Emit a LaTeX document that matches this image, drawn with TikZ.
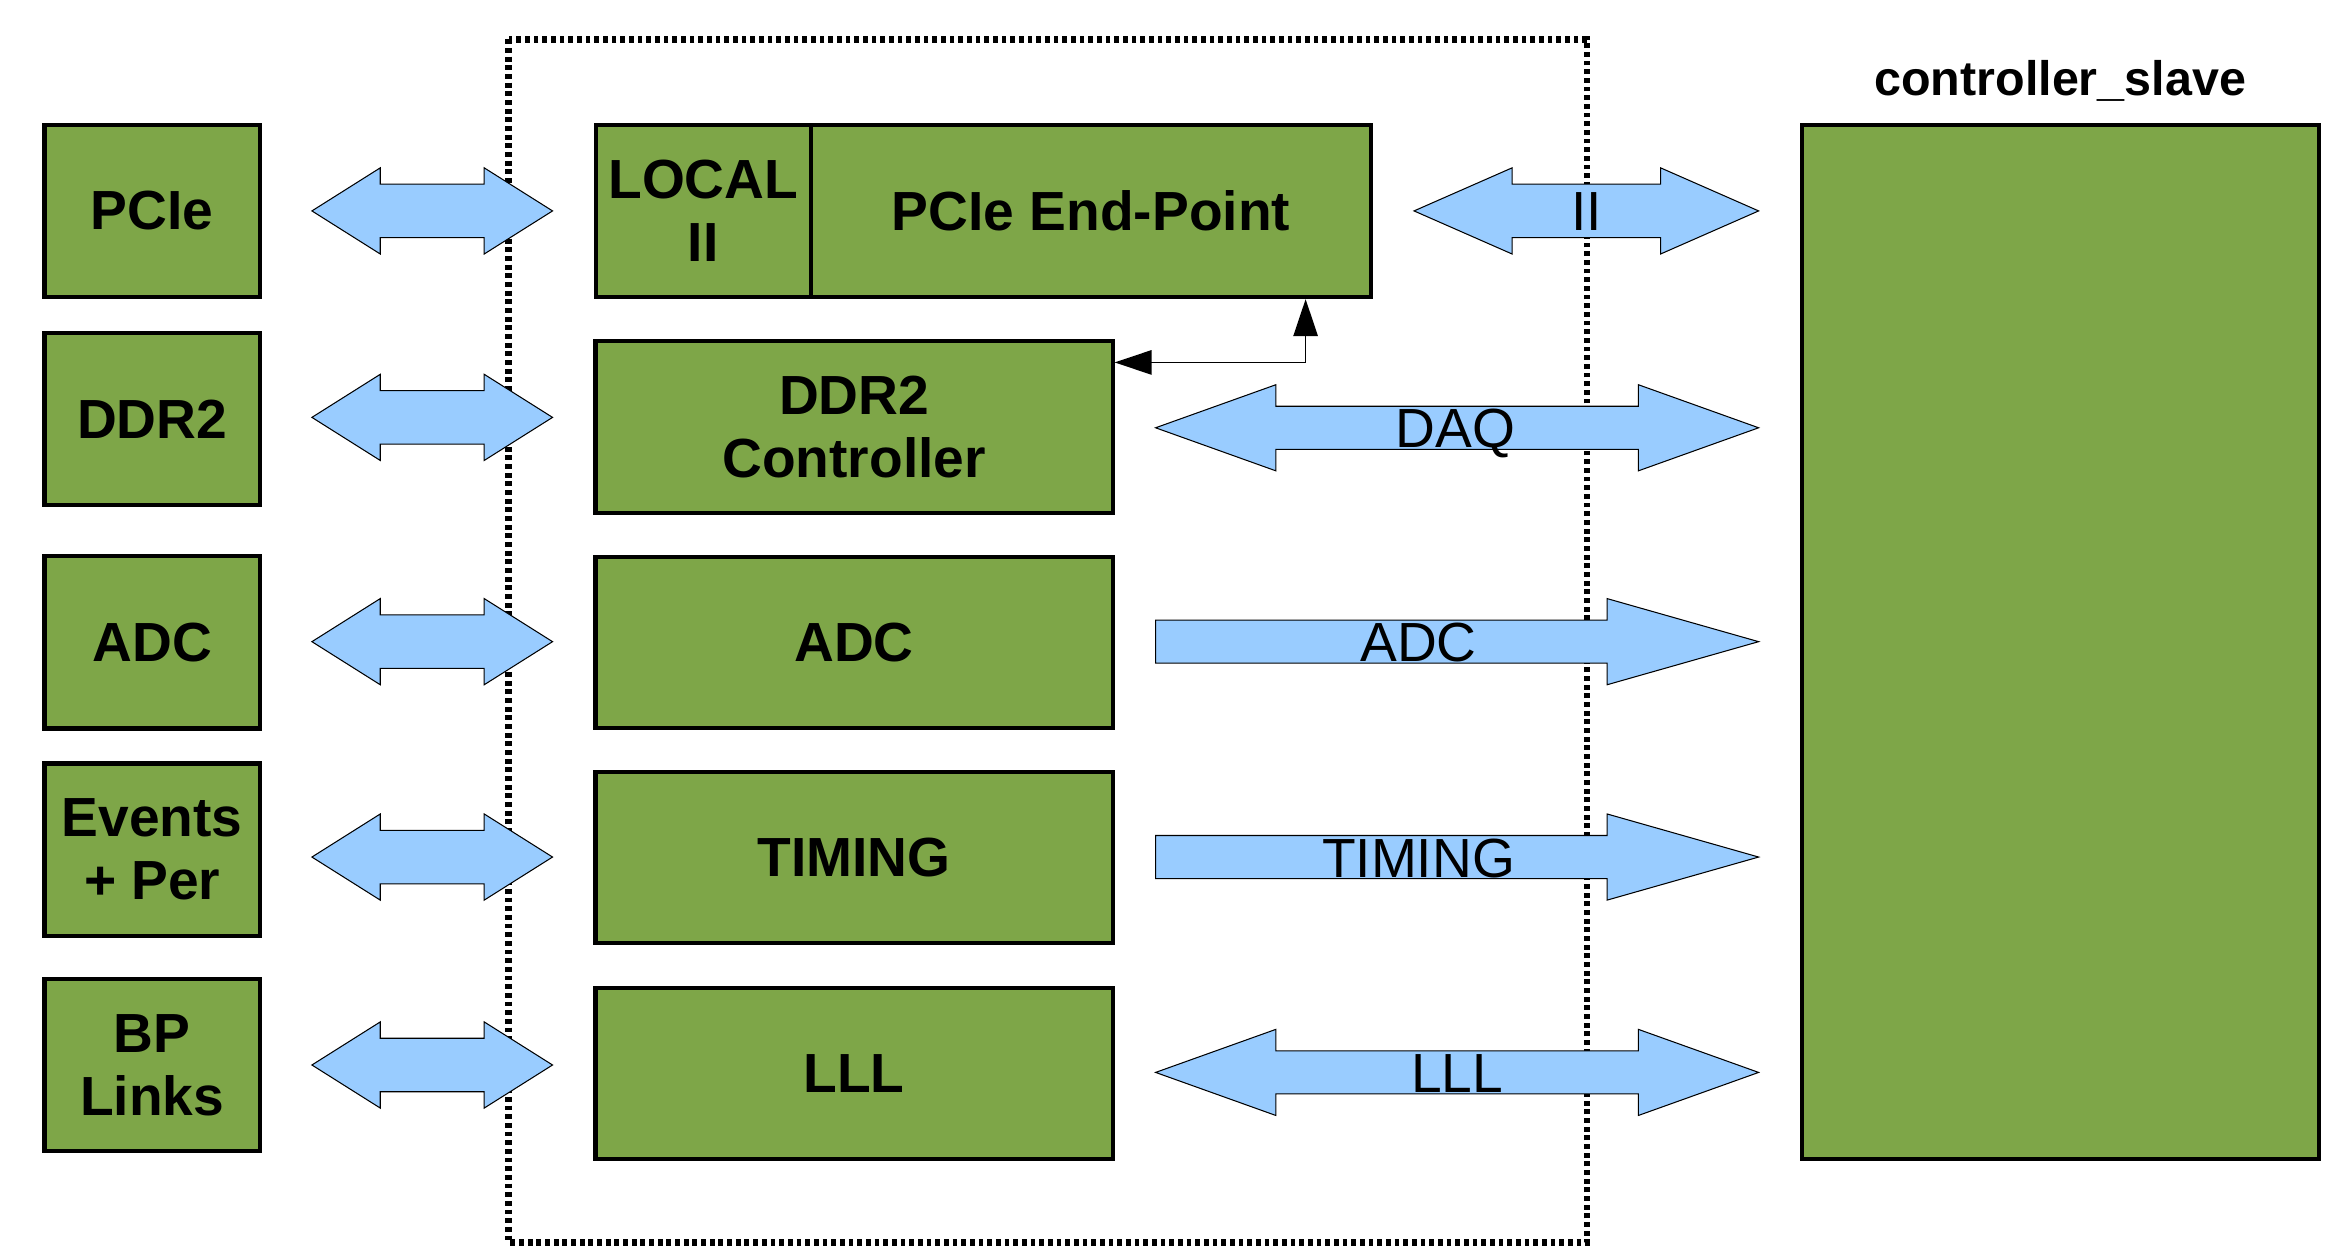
\documentclass[tikz,border=0pt]{standalone}
\usepackage{fontspec}
\setmainfont{Liberation Sans}
\usetikzlibrary{arrows.meta}
\definecolor{boxgreen}{RGB}{126,166,72}
\definecolor{arrblue}{RGB}{153,204,255}
\newcommand{\BoxLabelFont}{\fontsize{26.4}{30}\selectfont\bfseries}
\newcommand{\ArrLabelFont}{\fontsize{26.4}{30}\selectfont}
\newcommand{\TitleLabelFont}{\fontsize{23.2}{27}\selectfont\bfseries}
% double block arrow: x1 x2 yc headlen shafthalf headhalf
\newcommand{\DblBlockArrow}[6]{\draw[barrow] (#1,#3) -- ({#1+#4},{#3-#6}) -- ({#1+#4},{#3-#5}) -- ({#2-#4},{#3-#5}) -- ({#2-#4},{#3-#6}) -- (#2,#3) -- ({#2-#4},{#3+#6}) -- ({#2-#4},{#3+#5}) -- ({#1+#4},{#3+#5}) -- ({#1+#4},{#3+#6}) -- cycle;}
% single block arrow to the right
\newcommand{\SglBlockArrow}[6]{\draw[barrow] (#1,{#3-#5}) -- ({#2-#4},{#3-#5}) -- ({#2-#4},{#3-#6}) -- (#2,#3) -- ({#2-#4},{#3+#6}) -- ({#2-#4},{#3+#5}) -- (#1,{#3+#5}) -- cycle;}
\begin{document}
\begin{tikzpicture}[x=0.025cm, y=-0.025cm,
  box/.style={draw=black, line width=2pt, fill=boxgreen, inner sep=0pt, font=\BoxLabelFont, align=center},
  barrow/.style={draw=black, line width=0.5pt, fill=arrblue},
  arrlabel/.style={font=\ArrLabelFont, anchor=base, inner sep=0pt},
  conn/.style={line width=0.7pt, {Triangle[length=0.62cm,width=0.41cm]}-{Triangle[length=0.62cm,width=0.41cm]}},
  frameline/.style={line width=3.2pt, dash pattern=on 2.3pt off 1.85pt}]
\useasboundingbox (0,0) rectangle (1568,843);
\fill[white] (0,0) rectangle (1568,843);

% dotted frame
\draw[frameline] (342.5,26.5) rectangle (1068.5,836.5);

% left boxes
\node[box, minimum width=3.625cm, minimum height=2.9cm] (pcie) at (102.5,142) {PCIe};
\node[box, minimum width=3.625cm, minimum height=2.9cm] (ddr) at (102.5,282) {DDR2};
\node[box, minimum width=3.625cm, minimum height=2.9cm] (adc) at (102.5,432.5) {ADC};
\node[box, minimum width=3.625cm, minimum height=2.9cm] (evt) at (102.5,572) {Events\\+ Per};
\node[box, minimum width=3.625cm, minimum height=2.9cm] (bp) at (102.5,717) {BP\\Links};

% middle boxes
\node[box, minimum width=3.625cm, minimum height=2.9cm] (local) at (473.5,142) {LOCAL\\II};
\node[box, minimum width=9.425cm, minimum height=2.9cm] (pcieep) at (734.5,142) {PCIe End-Point};
\node[box, minimum width=8.7cm, minimum height=2.9cm] (ddrc) at (575,287.5) {DDR2\\Controller};
\node[box, minimum width=8.7cm, minimum height=2.875cm] (adcm) at (575,432.5) {ADC};
\node[box, minimum width=8.7cm, minimum height=2.875cm] (tim) at (575,577.5) {TIMING};
\node[box, minimum width=8.7cm, minimum height=2.875cm] (lll) at (575,722.5) {LLL};

% right box
\node[box, minimum width=8.7cm, minimum height=17.4cm] (slave) at (1387,432) {};
\node[font=\TitleLabelFont, anchor=base, inner sep=0pt] (title) at (1387,64) {controller\_slave};

% left block arrows
\DblBlockArrow{210}{372}{142}{46}{18}{29}
\DblBlockArrow{210}{372}{281}{46}{18}{29}
\DblBlockArrow{210}{372}{432}{46}{18}{29}
\DblBlockArrow{210}{372}{577}{46}{18}{29}
\DblBlockArrow{210}{372}{717}{46}{18}{29}

% right block arrows
\DblBlockArrow{952}{1184}{142}{66}{18}{29}
\DblBlockArrow{778}{1184}{288}{81}{14.5}{29}
\SglBlockArrow{778}{1184}{432}{102}{14.5}{29}
\SglBlockArrow{778}{1184}{577}{102}{14.5}{29}
\DblBlockArrow{778}{1184}{722}{81}{14.5}{29}

\node[arrlabel] (lII) at (1068,155.5) {II};
\node[arrlabel] (lDAQ) at (980,301.5) {DAQ};
\node[arrlabel] (lADC) at (955,445.5) {ADC};
\node[arrlabel] (lTIM) at (955,590.5) {TIMING};
\node[arrlabel] (lLLL) at (981,735.5) {LLL};

% connector DDR2 Controller <-> PCIe End-Point
\coordinate (bend) at (879,244);
\draw[conn] (ddrc.east |- bend) -- (bend) -- (pcieep.south -| bend);
\end{tikzpicture}
\end{document}
